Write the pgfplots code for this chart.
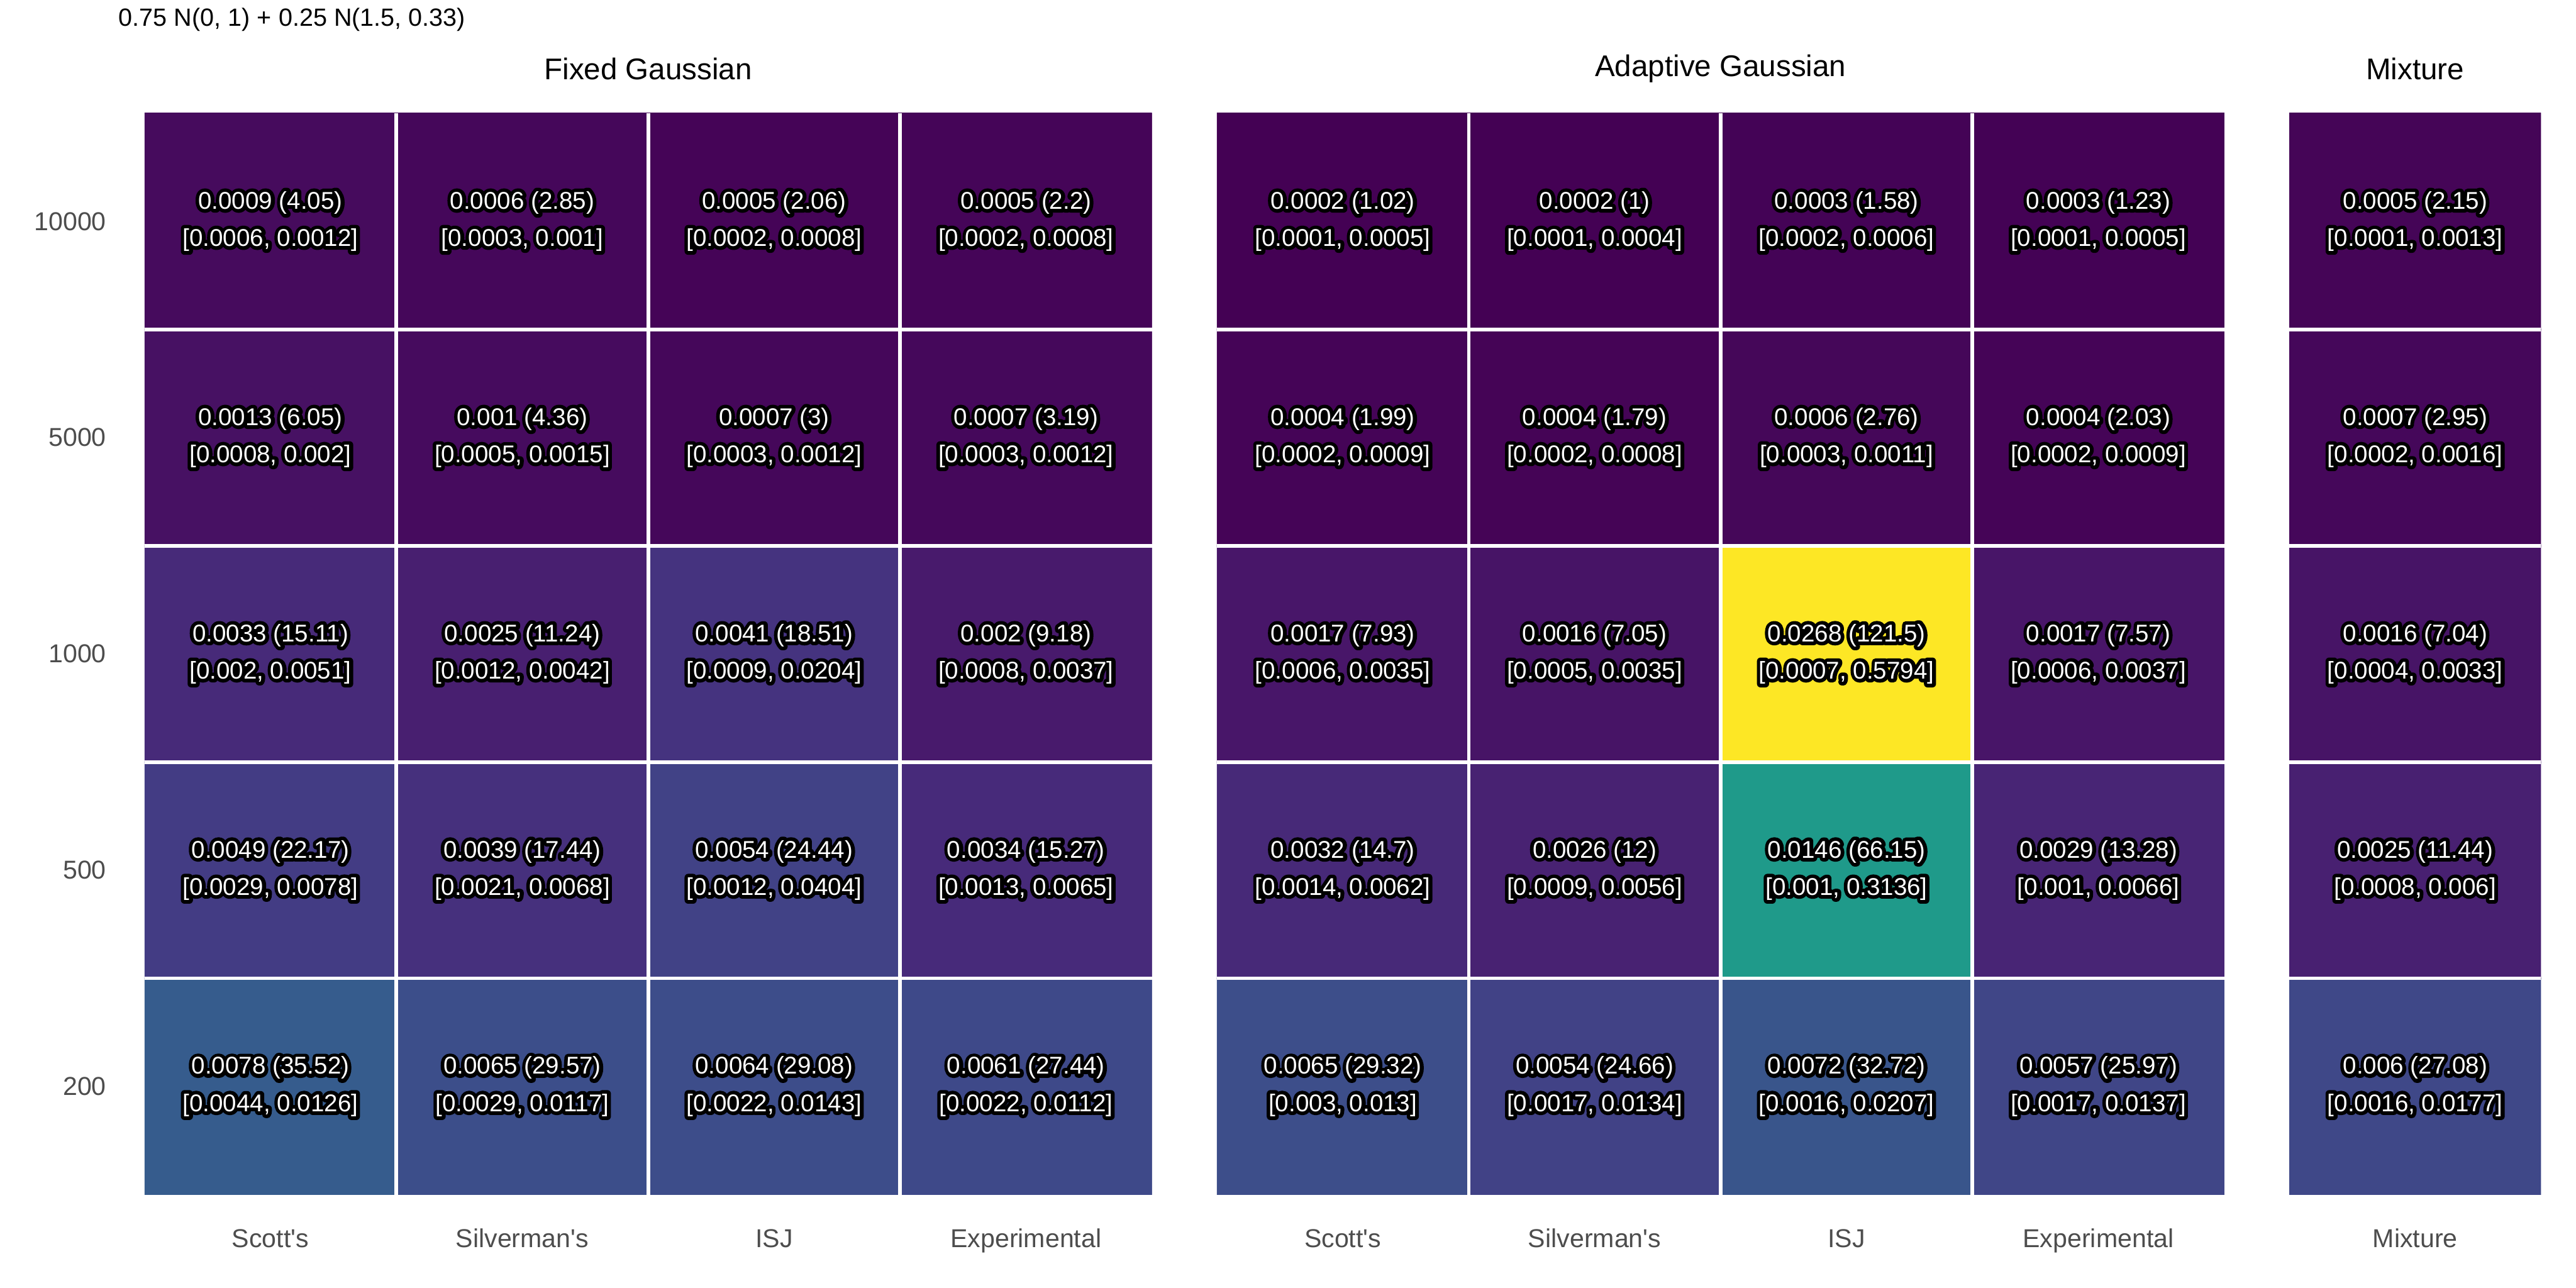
\documentclass[border=0pt]{standalone}
\usepackage{fontspec}
\setmainfont{Liberation Sans}
\usepackage{pgfplots}
\usepackage{pgfplotstable}
\pgfplotsset{compat=1.18}
\definecolor{tickgray}{HTML}{4D4D4D}

\font\halofnt="Liberation Sans:embolden=30" at 7.5pt
\newcommand\halo[1]{\leavevmode\rlap{\halofnt\color{black}#1}{\color{white}#1}}
\newcommand\cell[4]{\node[align=center, inner sep=0pt, line join=round, line cap=round, font=\fontsize{7.5}{11.5}\selectfont] at (axis cs:#1,#2) {\halo{#3}\\\halo{#4}};}
\newcommand\q{\textquotesingle}

% each tile: 4 corners (x y) with its relative value p (colour); rows 0..4 = n 200, 500, 1000, 5000, 10000
\pgfplotstableread{
x y p
-0.5 3.5 4.05
0.5 3.5 4.05
0.5 4.5 4.05
-0.5 4.5 4.05
0.5 3.5 2.85
1.5 3.5 2.85
1.5 4.5 2.85
0.5 4.5 2.85
1.5 3.5 2.06
2.5 3.5 2.06
2.5 4.5 2.06
1.5 4.5 2.06
2.5 3.5 2.2
3.5 3.5 2.2
3.5 4.5 2.2
2.5 4.5 2.2
-0.5 2.5 6.05
0.5 2.5 6.05
0.5 3.5 6.05
-0.5 3.5 6.05
0.5 2.5 4.36
1.5 2.5 4.36
1.5 3.5 4.36
0.5 3.5 4.36
1.5 2.5 3
2.5 2.5 3
2.5 3.5 3
1.5 3.5 3
2.5 2.5 3.19
3.5 2.5 3.19
3.5 3.5 3.19
2.5 3.5 3.19
-0.5 1.5 15.11
0.5 1.5 15.11
0.5 2.5 15.11
-0.5 2.5 15.11
0.5 1.5 11.24
1.5 1.5 11.24
1.5 2.5 11.24
0.5 2.5 11.24
1.5 1.5 18.51
2.5 1.5 18.51
2.5 2.5 18.51
1.5 2.5 18.51
2.5 1.5 9.18
3.5 1.5 9.18
3.5 2.5 9.18
2.5 2.5 9.18
-0.5 0.5 22.17
0.5 0.5 22.17
0.5 1.5 22.17
-0.5 1.5 22.17
0.5 0.5 17.44
1.5 0.5 17.44
1.5 1.5 17.44
0.5 1.5 17.44
1.5 0.5 24.44
2.5 0.5 24.44
2.5 1.5 24.44
1.5 1.5 24.44
2.5 0.5 15.27
3.5 0.5 15.27
3.5 1.5 15.27
2.5 1.5 15.27
-0.5 -0.5 35.52
0.5 -0.5 35.52
0.5 0.5 35.52
-0.5 0.5 35.52
0.5 -0.5 29.57
1.5 -0.5 29.57
1.5 0.5 29.57
0.5 0.5 29.57
1.5 -0.5 29.08
2.5 -0.5 29.08
2.5 0.5 29.08
1.5 0.5 29.08
2.5 -0.5 27.44
3.5 -0.5 27.44
3.5 0.5 27.44
2.5 0.5 27.44
}\fixedtab

\pgfplotstableread{
x y p
-0.5 3.5 1.02
0.5 3.5 1.02
0.5 4.5 1.02
-0.5 4.5 1.02
0.5 3.5 1
1.5 3.5 1
1.5 4.5 1
0.5 4.5 1
1.5 3.5 1.58
2.5 3.5 1.58
2.5 4.5 1.58
1.5 4.5 1.58
2.5 3.5 1.23
3.5 3.5 1.23
3.5 4.5 1.23
2.5 4.5 1.23
-0.5 2.5 1.99
0.5 2.5 1.99
0.5 3.5 1.99
-0.5 3.5 1.99
0.5 2.5 1.79
1.5 2.5 1.79
1.5 3.5 1.79
0.5 3.5 1.79
1.5 2.5 2.76
2.5 2.5 2.76
2.5 3.5 2.76
1.5 3.5 2.76
2.5 2.5 2.03
3.5 2.5 2.03
3.5 3.5 2.03
2.5 3.5 2.03
-0.5 1.5 7.93
0.5 1.5 7.93
0.5 2.5 7.93
-0.5 2.5 7.93
0.5 1.5 7.05
1.5 1.5 7.05
1.5 2.5 7.05
0.5 2.5 7.05
1.5 1.5 121.5
2.5 1.5 121.5
2.5 2.5 121.5
1.5 2.5 121.5
2.5 1.5 7.57
3.5 1.5 7.57
3.5 2.5 7.57
2.5 2.5 7.57
-0.5 0.5 14.7
0.5 0.5 14.7
0.5 1.5 14.7
-0.5 1.5 14.7
0.5 0.5 12
1.5 0.5 12
1.5 1.5 12
0.5 1.5 12
1.5 0.5 66.15
2.5 0.5 66.15
2.5 1.5 66.15
1.5 1.5 66.15
2.5 0.5 13.28
3.5 0.5 13.28
3.5 1.5 13.28
2.5 1.5 13.28
-0.5 -0.5 29.32
0.5 -0.5 29.32
0.5 0.5 29.32
-0.5 0.5 29.32
0.5 -0.5 24.66
1.5 -0.5 24.66
1.5 0.5 24.66
0.5 0.5 24.66
1.5 -0.5 32.72
2.5 -0.5 32.72
2.5 0.5 32.72
1.5 0.5 32.72
2.5 -0.5 25.97
3.5 -0.5 25.97
3.5 0.5 25.97
2.5 0.5 25.97
}\adapttab

\pgfplotstableread{
x y p
-0.5 3.5 2.15
0.5 3.5 2.15
0.5 4.5 2.15
-0.5 4.5 2.15
-0.5 2.5 2.95
0.5 2.5 2.95
0.5 3.5 2.95
-0.5 3.5 2.95
-0.5 1.5 7.04
0.5 1.5 7.04
0.5 2.5 7.04
-0.5 2.5 7.04
-0.5 0.5 11.44
0.5 0.5 11.44
0.5 1.5 11.44
-0.5 1.5 11.44
-0.5 -0.5 27.08
0.5 -0.5 27.08
0.5 0.5 27.08
-0.5 0.5 27.08
}\mixtab

\pgfplotsset{
  heat/.style={
    scale only axis, height=333.2bp, anchor=south west,
    ymin=-0.5, ymax=4.5,
    axis line style={draw=none}, major tick length=0pt, minor tick length=0pt,
    ytick={0,...,4},
    minor ytick={0.5,1.5,2.5,3.5},
    yminorgrids, xminorgrids,
    minor grid style={white, line width=1.1bp},
    axis on top,
    colormap/viridis, point meta min=1, point meta max=121.5,
    xticklabel style={font=\fontsize{8}{9}\selectfont, text=tickgray, anchor=base, inner sep=0pt, yshift=-16.3bp},
    yticklabel style={font=\fontsize{8}{9}\selectfont, text=tickgray, anchor=east, inner sep=0pt, xshift=-11.6bp},
  },
  tiles/.style={patch, patch type=rectangle, shader=flat, point meta=explicit},
}

\begin{document}
\begin{tikzpicture}
\path[use as bounding box] (0,0) rectangle (793.66bp,396.76bp);

% Fixed Gaussian
\begin{axis}[heat, at={(44.52bp,28.7bp)}, width=310.38bp,
  xmin=-0.5, xmax=3.5, xtick={0,1,2,3},
  xticklabels={Scott\q s,Silverman\q s,ISJ,Experimental},
  minor xtick={0.5,1.5,2.5},
  yticklabels={200,500,1000,5000,10000}]
\addplot[tiles] table[x=x, y=y, meta=p] {\fixedtab};
\cell{0}{4}{0.0009 (4.05)}{[0.0006, 0.0012]}
\cell{1}{4}{0.0006 (2.85)}{[0.0003, 0.001]}
\cell{2}{4}{0.0005 (2.06)}{[0.0002, 0.0008]}
\cell{3}{4}{0.0005 (2.2)}{[0.0002, 0.0008]}
\cell{0}{3}{0.0013 (6.05)}{[0.0008, 0.002]}
\cell{1}{3}{0.001 (4.36)}{[0.0005, 0.0015]}
\cell{2}{3}{0.0007 (3)}{[0.0003, 0.0012]}
\cell{3}{3}{0.0007 (3.19)}{[0.0003, 0.0012]}
\cell{0}{2}{0.0033 (15.11)}{[0.002, 0.0051]}
\cell{1}{2}{0.0025 (11.24)}{[0.0012, 0.0042]}
\cell{2}{2}{0.0041 (18.51)}{[0.0009, 0.0204]}
\cell{3}{2}{0.002 (9.18)}{[0.0008, 0.0037]}
\cell{0}{1}{0.0049 (22.17)}{[0.0029, 0.0078]}
\cell{1}{1}{0.0039 (17.44)}{[0.0021, 0.0068]}
\cell{2}{1}{0.0054 (24.44)}{[0.0012, 0.0404]}
\cell{3}{1}{0.0034 (15.27)}{[0.0013, 0.0065]}
\cell{0}{0}{0.0078 (35.52)}{[0.0044, 0.0126]}
\cell{1}{0}{0.0065 (29.57)}{[0.0029, 0.0117]}
\cell{2}{0}{0.0064 (29.08)}{[0.0022, 0.0143]}
\cell{3}{0}{0.0061 (27.44)}{[0.0022, 0.0112]}
\end{axis}

% Adaptive Gaussian
\begin{axis}[heat, at={(374.92bp,28.7bp)}, width=310.38bp,
  xmin=-0.5, xmax=3.5, xtick={0,1,2,3},
  xticklabels={Scott\q s,Silverman\q s,ISJ,Experimental},
  minor xtick={0.5,1.5,2.5},
  yticklabels={}]
\addplot[tiles] table[x=x, y=y, meta=p] {\adapttab};
\cell{0}{4}{0.0002 (1.02)}{[0.0001, 0.0005]}
\cell{1}{4}{0.0002 (1)}{[0.0001, 0.0004]}
\cell{2}{4}{0.0003 (1.58)}{[0.0002, 0.0006]}
\cell{3}{4}{0.0003 (1.23)}{[0.0001, 0.0005]}
\cell{0}{3}{0.0004 (1.99)}{[0.0002, 0.0009]}
\cell{1}{3}{0.0004 (1.79)}{[0.0002, 0.0008]}
\cell{2}{3}{0.0006 (2.76)}{[0.0003, 0.0011]}
\cell{3}{3}{0.0004 (2.03)}{[0.0002, 0.0009]}
\cell{0}{2}{0.0017 (7.93)}{[0.0006, 0.0035]}
\cell{1}{2}{0.0016 (7.05)}{[0.0005, 0.0035]}
\cell{2}{2}{0.0268 (121.5)}{[0.0007, 0.5794]}
\cell{3}{2}{0.0017 (7.57)}{[0.0006, 0.0037]}
\cell{0}{1}{0.0032 (14.7)}{[0.0014, 0.0062]}
\cell{1}{1}{0.0026 (12)}{[0.0009, 0.0056]}
\cell{2}{1}{0.0146 (66.15)}{[0.001, 0.3136]}
\cell{3}{1}{0.0029 (13.28)}{[0.001, 0.0066]}
\cell{0}{0}{0.0065 (29.32)}{[0.003, 0.013]}
\cell{1}{0}{0.0054 (24.66)}{[0.0017, 0.0134]}
\cell{2}{0}{0.0072 (32.72)}{[0.0016, 0.0207]}
\cell{3}{0}{0.0057 (25.97)}{[0.0017, 0.0137]}
\end{axis}

% Mixture
\begin{axis}[heat, at={(705.32bp,28.7bp)}, width=77.56bp,
  xmin=-0.5, xmax=0.5, xtick={0},
  xticklabels={Mixture},
  minor xtick={},
  yticklabels={}]
\addplot[tiles] table[x=x, y=y, meta=p] {\mixtab};
\cell{0}{4}{0.0005 (2.15)}{[0.0001, 0.0013]}
\cell{0}{3}{0.0007 (2.95)}{[0.0002, 0.0016]}
\cell{0}{2}{0.0016 (7.04)}{[0.0004, 0.0033]}
\cell{0}{1}{0.0025 (11.44)}{[0.0008, 0.006]}
\cell{0}{0}{0.006 (27.08)}{[0.0016, 0.0177]}
\end{axis}

% strip labels and title
\node[font=\fontsize{9.25}{11}\selectfont] at (199.71bp,375.5bp) {Fixed Gaussian};
\node[font=\fontsize{9.25}{11}\selectfont] at (530.11bp,375.5bp) {Adaptive Gaussian};
\node[font=\fontsize{9.25}{11}\selectfont] at (744.1bp,375.5bp) {Mixture};
\node[font=\fontsize{7.7}{9}\selectfont, anchor=west, inner sep=0pt] at (36.4bp,390.7bp) {0.75 N(0, 1) + 0.25 N(1.5, 0.33)};
\end{tikzpicture}
\end{document}
